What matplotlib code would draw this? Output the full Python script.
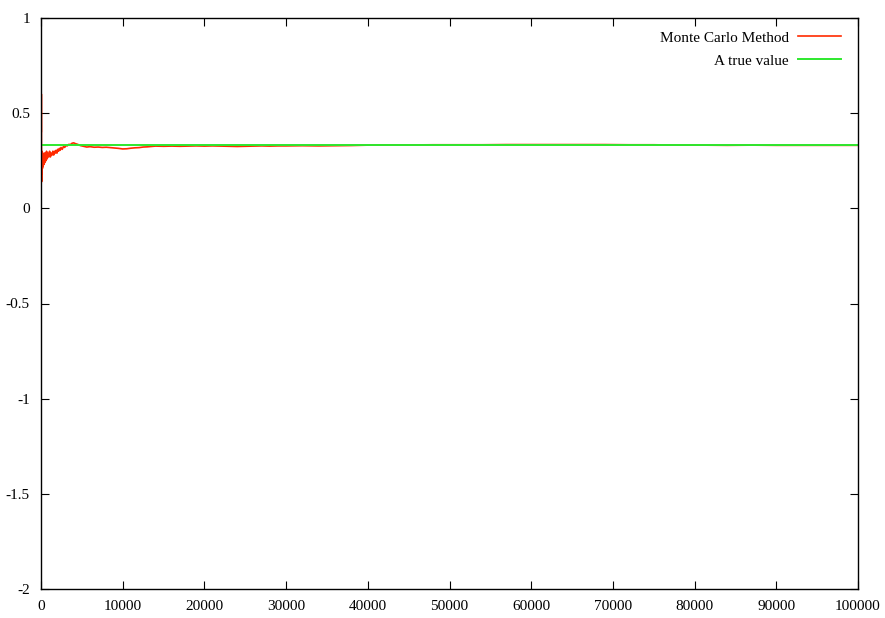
import matplotlib
matplotlib.use('Agg')
import matplotlib.pyplot as plt
import matplotlib.ticker as mticker

# running Monte Carlo estimate
mc_n = [1, 15, 30, 45, 60, 80, 100, 125, 150, 180, 210, 250, 300, 350, 400,
        460, 520, 600, 680, 760, 850, 950, 1050, 1150, 1250, 1350, 1450,
        1550, 1650, 1750, 1850, 1950, 2050, 2150, 2250, 2350, 2450, 2600,
        2750, 2900, 3050, 3200, 3400, 3600, 3800, 4000, 4200, 4500, 4800,
        5200, 5600, 6000, 6500, 7000, 7500, 8000, 8500, 9000, 9500, 10000,
        10500, 11000, 11500, 12000, 12500, 13000, 13500, 14000, 15000, 16000,
        17000, 18000, 19000, 20000, 21000, 22000, 23000, 24000, 25000, 26000,
        27000, 28000, 29000, 30000, 32000, 34000, 36000, 38000, 40000, 42000,
        45000, 48000, 51000, 54000, 57000, 60000, 63000, 66000, 69000, 72000,
        75000, 78000, 81000, 84000, 87000, 90000, 93000, 96000, 100000]
mc_est = [0.50, 0.70, 0.40, 0.60, 0.22, 0.14, 0.30, 0.18, 0.26, 0.21, 0.29,
          0.22, 0.28, 0.23, 0.29, 0.24, 0.29, 0.25, 0.30, 0.26, 0.29, 0.27,
          0.30, 0.27, 0.29, 0.28, 0.30, 0.28, 0.30, 0.29, 0.305, 0.29, 0.31,
          0.30, 0.315, 0.305, 0.32, 0.31, 0.325, 0.32, 0.33, 0.328, 0.336,
          0.335, 0.342, 0.344, 0.34, 0.336, 0.33, 0.326, 0.322, 0.324, 0.321,
          0.322, 0.32, 0.321, 0.319, 0.317, 0.315, 0.312, 0.313, 0.316, 0.318,
          0.319, 0.322, 0.323, 0.325, 0.327, 0.326, 0.327, 0.326, 0.327, 0.328,
          0.327, 0.328, 0.327, 0.326, 0.325, 0.326, 0.327, 0.328, 0.327, 0.328,
          0.328, 0.329, 0.328, 0.329, 0.33, 0.332, 0.333, 0.333, 0.334, 0.334,
          0.334, 0.335, 0.335, 0.335, 0.335, 0.335, 0.334, 0.334, 0.332, 0.332,
          0.331, 0.332, 0.331, 0.331, 0.331, 0.331]

true_n = [0, 100000]
true_value = 1.0 / 3.0

x_ticks = list(range(0, 100001, 10000))
y_ticks = [-2, -1.5, -1, -0.5, 0, 0.5, 1]

plt.rcParams['font.family'] = ['Liberation Serif', 'DejaVu Serif']

fig = plt.figure(figsize=(8.85, 6.18), dpi=100)
ax = fig.add_axes([41 / 885, 1 - 589 / 618, 817 / 885, 571 / 618])

ax.plot(mc_n, mc_est, color='#ff2a00', linewidth=1.2, label='Monte Carlo Method')
ax.plot(true_n, [true_value] * len(true_n), color='#2ee82e', linewidth=1.4,
        label='A true value')

ax.set_xlim(0, 100000)
ax.set_ylim(-2, 1)
ax.set_xticks(x_ticks)
ax.set_yticks(y_ticks)
ax.xaxis.set_major_formatter(mticker.FuncFormatter(lambda v, p: f'{int(v)}'))
ax.yaxis.set_major_formatter(mticker.FuncFormatter(lambda v, p: f'{v:g}'))
ax.tick_params(direction='in', length=6, width=0.8, top=True, right=True,
               labelsize=11, pad=8, color='black')
for s in ax.spines.values():
    s.set_linewidth(1.0)

ax.legend(loc='upper right', frameon=False, markerfirst=False, fontsize=11,
          handlelength=2.8, handletextpad=0.6, labelspacing=0.6,
          borderpad=0, borderaxespad=0,
          bbox_to_anchor=(1 - 17 / 817, 1 - 13 / 571))

fig.savefig('out.png', dpi=100)
